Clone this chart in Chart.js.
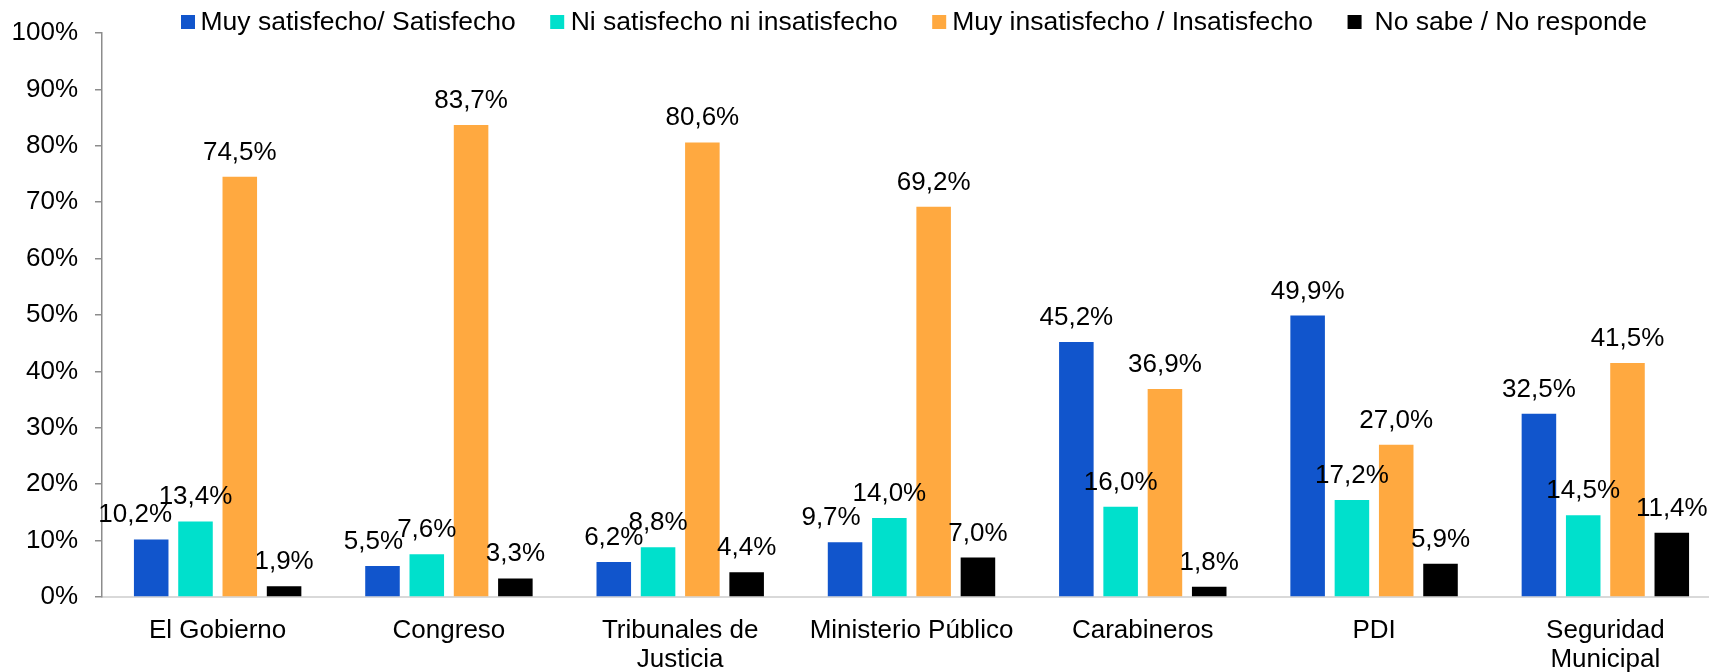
<!DOCTYPE html>
<html><head><meta charset="utf-8">
<script src="https://cdn.jsdelivr.net/npm/chart.js@4.4.0/dist/chart.umd.min.js"></script>
<style>
html,body{margin:0;padding:0;background:#fff;overflow:hidden;width:1709px;height:672px;}
#wrap{position:absolute;left:0;top:0;width:1721px;height:672px;}
</style></head><body>
<div id="wrap"><canvas id="c" width="1721" height="672"></canvas></div>
<script>
// ---- data ----
const categories = [["El Gobierno"], ["Congreso"], ["Tribunales de", "Justicia"], ["Ministerio Público"], ["Carabineros"], ["PDI"], ["Seguridad", "Municipal"]];
const seriesNames = ["Muy satisfecho/ Satisfecho", "Ni satisfecho ni insatisfecho", "Muy insatisfecho / Insatisfecho", "No sabe / No responde"];
const satisfecho   = [10.2, 5.5, 6.2, 9.7, 45.2, 49.9, 32.5];
const niNi         = [13.4, 7.6, 8.8, 14.0, 16.0, 17.2, 14.5];
const insatisfecho = [74.5, 83.7, 80.6, 69.2, 36.9, 27.0, 41.5];
const noSabe       = [1.9, 3.3, 4.4, 7.0, 1.8, 5.9, 11.4];
const yTickValues  = [0, 10, 20, 30, 40, 50, 60, 70, 80, 90, 100];

// ---- styles ----
const colors = ["#1155CC", "#00E0CC", "#FFA940", "#000000"];
const FONT = "'Liberation Sans', Arial, sans-serif";
const fmt = v => v.toFixed(1).replace('.', ',') + '%';
// manual nudges of a few data labels (dataset index -> category index -> dx px)
const labelNudge = {0: {0: -16, 1: -9, 3: -14}};

const dataLabels = {
  id: 'dataLabels',
  afterDatasetsDraw(chart) {
    const ctx = chart.ctx;
    ctx.save();
    ctx.font = "26px " + FONT;
    ctx.fillStyle = "#000";
    ctx.textAlign = "center";
    ctx.textBaseline = "alphabetic";
    chart.data.datasets.forEach((ds, di) => {
      const meta = chart.getDatasetMeta(di);
      meta.data.forEach((bar, i) => {
        const dx = (labelNudge[di] && labelNudge[di][i]) || 0;
        ctx.fillText(fmt(ds.data[i]), bar.x + dx, bar.y - 17);
      });
    });
    ctx.restore();
  }
};

const customLegend = {
  id: 'customLegend',
  afterDraw(chart) {
    const ctx = chart.ctx;
    ctx.save();
    ctx.font = "26.5px " + FONT;
    ctx.textBaseline = "middle";
    ctx.textAlign = "left";
    let x = 181;
    const textGaps = [5.5, 6.5, 6, 13];
    chart.data.datasets.forEach((ds, di) => {
      ctx.fillStyle = ds.backgroundColor;
      ctx.fillRect(x, 15, 14, 14);
      x += 14 + textGaps[di];
      ctx.fillStyle = "#000";
      ctx.fillText(ds.label, x, 23);
      x += ctx.measureText(ds.label).width + 34.5;
    });
    ctx.restore();
  }
};

const datasets = [satisfecho, niNi, insatisfecho, noSabe].map((arr, i) => ({
  label: seriesNames[i],
  data: arr,
  backgroundColor: colors[i],
  borderWidth: 0,
  categoryPercentage: 0.766,
  barPercentage: 0.78
}));

new Chart(document.getElementById('c'), {
  type: 'bar',
  data: { labels: categories, datasets },
  plugins: [dataLabels, customLegend],
  options: {
    responsive: false,
    animation: false,
    layout: { padding: { left: 12, top: 33, right: 0, bottom: 0 } },
    plugins: { legend: { display: false }, tooltip: { enabled: false } },
    scales: {
      x: {
        grid: { display: false, drawTicks: false },
        border: { display: true, color: "#d9d9d9", width: 2 },
        ticks: { color: "#000", font: { family: FONT, size: 26, lineHeight: 1.12 }, padding: 19, maxRotation: 0, autoSkip: false },
        afterFit(scale) { scale.height = 75; }
      },
      y: {
        min: 0, max: 100,
        afterBuildTicks(scale) { scale.ticks = yTickValues.map(v => ({ value: v })); },
        grid: { display: true, drawOnChartArea: false, drawTicks: true, tickLength: 7, color: "#8c8c8c", lineWidth: 1.5 },
        border: { display: true, color: "#8c8c8c", width: 1.5 },
        ticks: { color: "#000", font: { family: FONT, size: 26 }, padding: 17, callback: v => v + '%' },
        afterFit(scale) { scale.width = 90; }
      }
    }
  }
});
</script>
</body></html>
